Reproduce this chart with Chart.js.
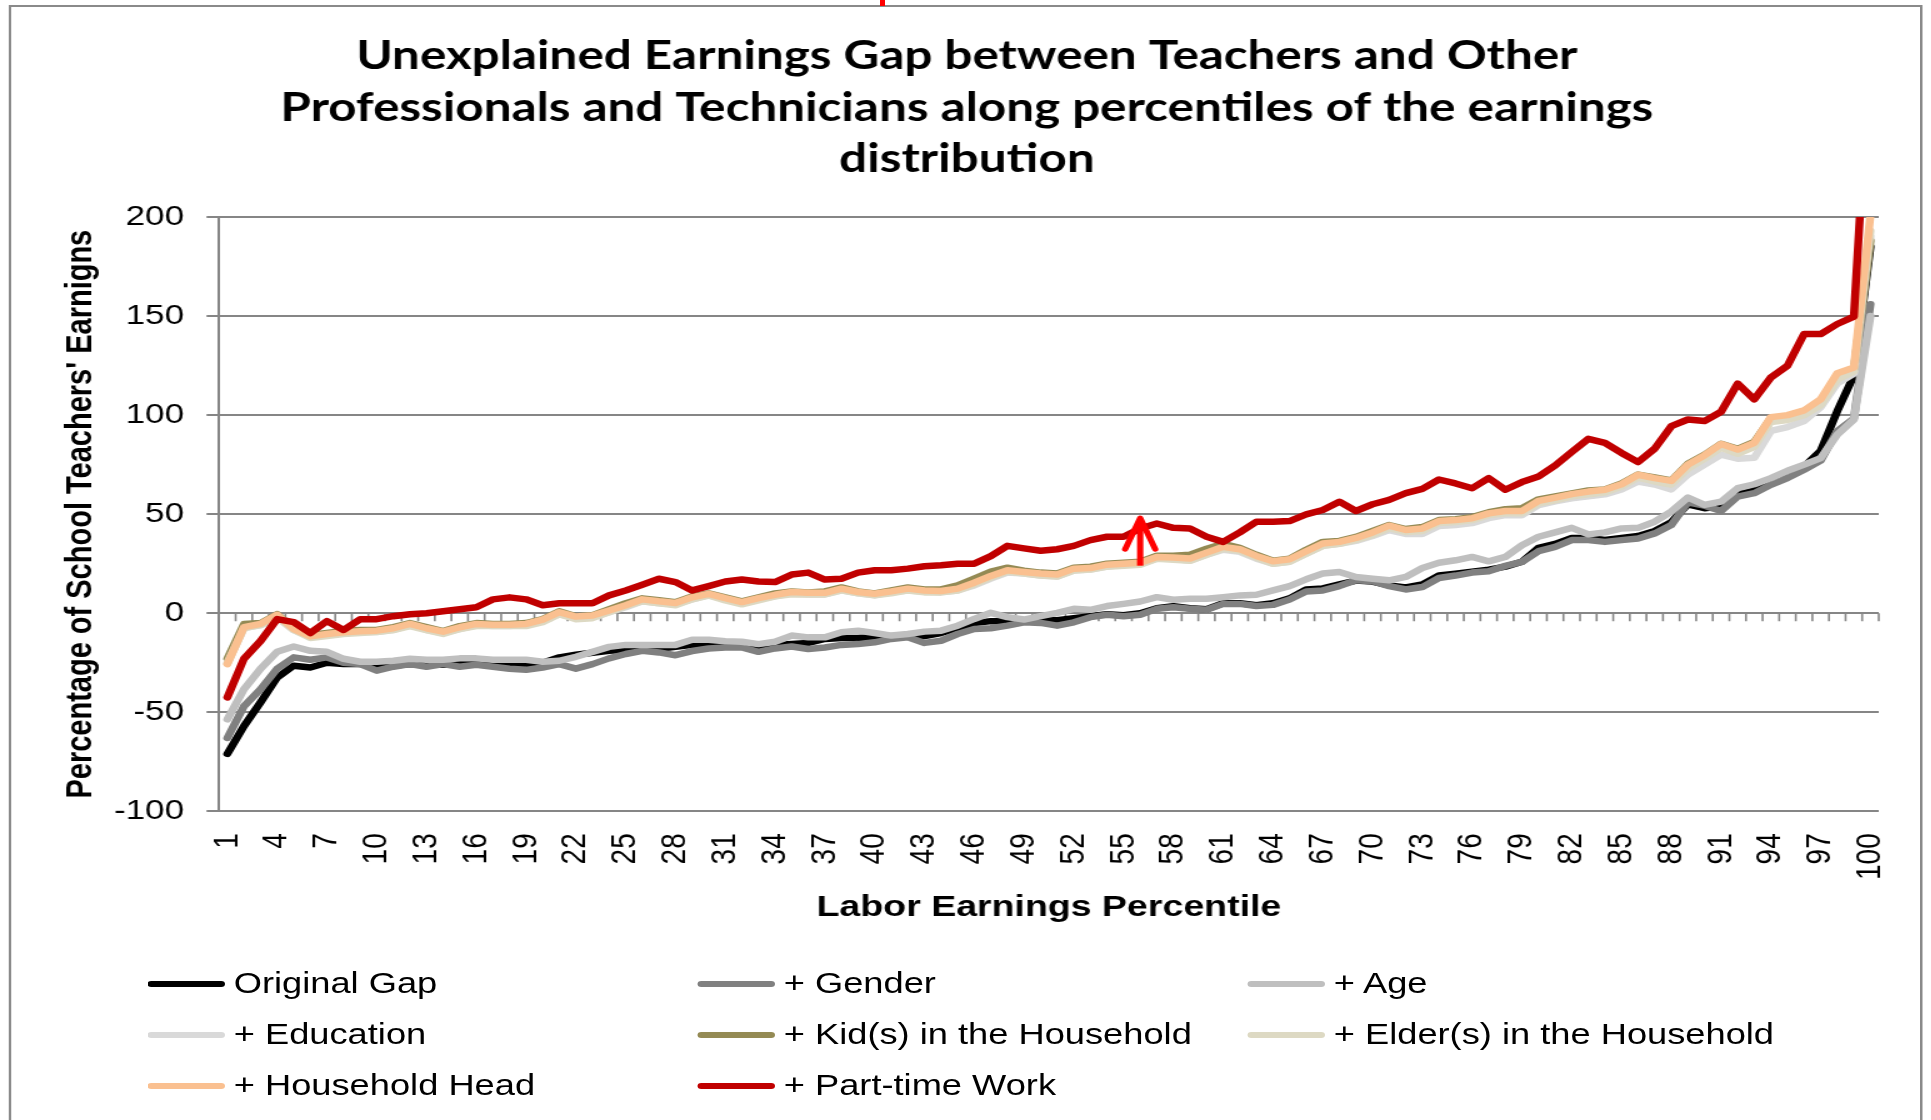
<!DOCTYPE html>
<html>
<head>
<meta charset="utf-8">
<title>Unexplained Earnings Gap</title>
<script src="https://cdn.jsdelivr.net/npm/chart.js@4.4.1/dist/chart.umd.min.js"></script>
<style>
  html, body { margin: 0; padding: 0; background: #fff; overflow: hidden; }
  /* the source picture is stretched sideways, so the whole stage is too */
  #stage { position: absolute; left: 0; top: 0; width: 1545px; height: 1120px; transform: scaleX(1.25); transform-origin: 0 0; }
  #frame { position: absolute; left: 7px; top: 5px; width: 1531px; height: 1300px; border: 2px solid #8a8a8a; box-sizing: border-box; }
  #chart { position: absolute; left: 0; top: 0; }
  #legend { position: absolute; left: 118px; top: 958px; display: grid; grid-template-columns: 440px 440px 440px; grid-auto-rows: 51px;
            font: 29px "Liberation Sans", Arial, sans-serif; color: #000; }
  .item { display: flex; align-items: center; white-space: nowrap; }
  .swatch { width: 62px; height: 6px; border-radius: 3px; margin-right: 7px; }
  #cut { position: absolute; left: 704px; top: 0; width: 4px; height: 6px; background: #ff0000; }
</style>
</head>
<body>
<div id="stage">
  <div id="frame"></div>
  <div id="cut"></div>
  <canvas id="chart" width="1545" height="1120" style="width:1545px;height:1120px"></canvas>
  <div id="legend"></div>
</div>
<script>
const percentiles = Array.from({ length: 100 }, (_, i) => String(i + 1));

const originalGap = [
  -71, -57, -45, -32.5, -26.5, -27.4, -25, -25.7, -25.7, -26.5, -26.5, -25.7, -26, -26, -25.7, -25.7, -26, -26.5, -26, -25, -22.3, -21, -20, -19, -18.5,
  -18, -18, -17, -16, -16, -16.5, -16.5, -17.5, -16, -15.5, -15, -13, -12.5, -12.5, -12, -12, -11, -11.5, -10, -7.5, -5, -4, -4, -3.5, -3,
  -3.5, -2.5, -1.5, -0.5, -1, 0, 2.5, 3.5, 2.5, 2, 5, 5, 4, 5, 7.5, 12, 12.5, 14.5, 16.5, 16, 14, 13, 14.5, 19, 20,
  21, 22, 23.5, 26, 33, 35, 38, 38, 37, 38, 39, 41.5, 46, 55, 53, 54, 60, 62, 66, 70, 74, 82, 102, 120, 185
];
const plusGender = [
  -63, -47, -38.4, -28, -22.3, -23.5, -22.3, -25, -25.7, -29, -27, -25.7, -27, -25.7, -27, -26, -27, -28, -28.6, -27.4, -25.7, -28, -25.7, -22.8, -20.6,
  -19, -19.8, -21.2, -19.1, -17.8, -17.3, -17.3, -19.5, -17.8, -16.8, -18.1, -17.3, -16, -15.6, -14.7, -13, -12.2, -15, -13.9, -10.5, -8, -7.6, -6.3, -4.6, -4.9,
  -6.3, -4.6, -2, -0.8, -1.5, -0.8, 2.2, 3, 2.2, 1.7, 4.7, 4.7, 3.6, 4.2, 6.9, 11, 11.5, 13.7, 16.6, 16.1, 13.7, 12, 13.2, 17.8, 19,
  20.5, 21.2, 23.9, 25.9, 31.3, 33.5, 36.9, 36.9, 36, 36.9, 37.7, 40.3, 44.5, 56, 54.3, 51.6, 58.9, 60.6, 64.8, 68.2, 72.4, 77, 91.9, 98.3, 156
];
const plusAge = [
  -53.6, -38.4, -28, -19.5, -16.8, -19, -19.5, -23, -24.5, -24.5, -24, -23, -23.5, -23.5, -22.8, -22.8, -23.5, -23.5, -23.5, -24.5, -24, -22, -19.5, -17, -16,
  -16, -16, -16, -13.4, -13.4, -14.2, -14.4, -15.6, -14.4, -11.3, -12.2, -12.2, -9.6, -8.8, -10, -11.3, -10.5, -9.3, -8.8, -6.3, -2.9, 0.2, -2, -3.2, -1.5,
  0.2, 2.2, 1.7, 3.6, 4.7, 5.9, 8.1, 6.8, 7.3, 7.3, 8.1, 9, 9.3, 11.5, 13.7, 17.1, 20, 20.8, 18.3, 17.4, 16.6, 18.3, 22.8, 25.5, 26.7,
  28.4, 26.2, 28.4, 34.3, 38.6, 40.8, 43.1, 39.8, 40.8, 42.8, 43.1, 46.2, 51.3, 58.4, 54.7, 56.3, 63.1, 65.1, 68.2, 71.9, 75, 78.3, 90.2, 97.8, 150
];
const plusEducation = [
  -25.5, -7.5, -6, -2, -8.5, -12, -11, -10, -9.5, -9.5, -8.5, -6, -8.5, -10, -8, -6, -6.5, -6.5, -6, -4, -0.5, -2.5, -2, 0.5, 3,
  6, 5, 4.5, 7, 9, 7, 5, 7, 8.5, 10, 9.5, 9.5, 11.5, 10, 9, 10.5, 11.5, 11, 10.5, 11.5, 14, 17.5, 20.5, 20, 19,
  18.5, 21.5, 22, 23.5, 24.5, 25, 27.5, 27.5, 26.5, 29.5, 32, 31, 27.5, 25, 26, 30, 34, 35, 36.5, 39, 42, 40, 40, 44, 44.5,
  45.5, 48, 49.5, 49.5, 54.5, 56.5, 58, 59, 60, 62.5, 66.5, 65, 62.5, 70, 75, 80, 78, 78.5, 92, 94, 97, 104, 116, 121, 190
];
const plusKids = [
  -23, -5.5, -5, -0.5, -7.5, -11, -10, -9, -8.5, -8.5, -7, -5, -7, -9, -6.5, -5, -5.5, -5.5, -5, -3, 1, -1.5, -1, 2, 5,
  7.5, 6.5, 5.5, 8.5, 10, 8, 6, 8, 10, 11, 10.5, 11, 13, 11, 10, 11.5, 13, 12, 12, 14, 17.5, 21, 23, 21.5, 20.5,
  20, 23, 23.5, 25, 25.5, 26, 29, 29, 29.5, 32.5, 35, 33, 29.5, 26.5, 27.5, 32, 36, 36.5, 38.5, 41.5, 44.5, 42.5, 43.5, 47, 47.5,
  48.5, 51, 52.5, 53, 57.5, 59, 60.5, 62, 62.5, 65.5, 70, 68.5, 67, 75.5, 80, 85.5, 83, 86.5, 98.5, 99.5, 102, 107, 120, 123, 188
];
const plusElders = [
  -25, -7.5, -6, -2, -8.5, -12.5, -11.5, -10.5, -10, -9.5, -8.5, -6.5, -8.5, -10.5, -8, -6.5, -6.5, -6.5, -6.5, -4.5, -0.5, -3, -2.5, 0.5, 3.5,
  6, 5, 4, 7, 9, 6.5, 4.5, 6.5, 8.5, 9.5, 9.5, 9.5, 11.5, 10, 9, 10, 11.5, 10.5, 10.5, 11.5, 14.5, 18, 21, 20, 19,
  18.5, 21.5, 22, 23.5, 24, 24.5, 27.5, 27, 26.5, 29.5, 32.5, 31.5, 28, 25, 26, 30, 34, 35, 37, 39.5, 43, 41, 41.5, 45.5, 46,
  47, 49.5, 50.5, 50.5, 55.5, 57, 59, 60, 61, 64, 68.5, 66.5, 65, 73, 78, 83.5, 80.5, 84, 96.5, 97.5, 100, 105, 118, 122, 193
];
const plusHouseholdHead = [
  -25.7, -7, -5.4, -0.8, -8, -11.7, -10.5, -9.6, -9.1, -8.8, -7.6, -5.4, -7.6, -9.3, -7.1, -5.4, -5.8, -5.8, -5.4, -3.2, 0.5, -1.7, -1.2, 1.4, 4,
  7, 6, 5.2, 8, 9.8, 7.6, 5.6, 7.6, 9.3, 10.7, 10.3, 10.3, 12.4, 10.7, 9.8, 11, 12.4, 11.5, 11.2, 12.4, 15.4, 18.8, 21.7, 20.8, 20,
  19.5, 22.5, 22.8, 24.5, 25, 25.5, 28.4, 28.1, 27.6, 30.6, 33.5, 32.3, 28.9, 26.2, 27.2, 31.3, 35.2, 36, 38, 40.8, 44.2, 42, 42.8, 46.5, 47,
  47.9, 50.4, 51.6, 51.6, 56.7, 58.4, 60.1, 61.4, 62.3, 65.1, 69.9, 68.2, 66.8, 75, 79.7, 85.4, 82.6, 86, 99, 100, 102.4, 108, 121.2, 124, 201
];
const plusPartTime = [
  -42.5, -23, -14, -3, -4.5, -10, -4, -8.5, -3, -3, -1.5, -0.5, 0, 1, 2, 3, 7, 8, 7, 4, 5, 5, 5, 9, 11.5,
  14.4, 17.4, 15.7, 11.5, 13.7, 16, 17, 16, 15.7, 19.5, 20.5, 17, 17.4, 20.5, 21.7, 21.7, 22.5, 23.7, 24.2, 25, 25, 28.8, 34, 32.7, 31.5,
  32.3, 34, 36.9, 38.6, 38.6, 42.8, 45.3, 43.1, 42.8, 38.6, 36, 40.8, 46.2, 46.2, 46.5, 49.9, 52.1, 56.3, 51.6, 55, 57.2, 60.6, 62.8, 67.5, 65.5,
  63.1, 68.2, 62.3, 66.2, 69, 74.6, 81.4, 88, 86, 80.9, 76.3, 83.1, 94.4, 97.8, 97, 101.7, 115.9, 108, 119, 124.9, 140.9, 140.9, 146, 149.7, 290
];

const seriesNames = ["Original Gap", "+ Gender", "+ Age", "+ Education", "+ Kid(s) in the Household",
  "+ Elder(s) in the Household", "+ Household Head", "+ Part-time Work"];
const seriesValues = [originalGap, plusGender, plusAge, plusEducation, plusKids, plusElders, plusHouseholdHead, plusPartTime];
const seriesColors = ["#000000", "#808080", "#bfbfbf", "#d9d9d9", "#948a54", "#ddd9c3", "#fac090", "#c00000"];

const yTicks = [-100, -50, 0, 50, 100, 150, 200];

// red arrow drawn on the chart: percentile, from, to
const arrowMark = { at: "56", from: 24, to: 48 };

const titleLines = [
  "Unexplained Earnings Gap between Teachers and Other",
  "Professionals and Technicians along percentiles of the earnings",
  "distribution"
];

const GRID = "#868686";
const FONT = '"Liberation Sans", Arial, sans-serif';

// small tick marks hang under the zero line, one per category boundary
const zeroTicks = {
  id: "zeroTicks",
  beforeDatasetsDraw(chart) {
    const x = chart.scales.x, y = chart.scales.y;
    const y0 = y.getPixelForValue(0);
    const n = x.getLabels().length;
    const step = (x.right - x.left) / n;
    const ctx = chart.ctx;
    ctx.save();
    ctx.strokeStyle = GRID;
    ctx.lineWidth = 1.6;
    ctx.beginPath();
    for (let k = 1; k <= n; k++) {
      const px = x.left + step * k;
      ctx.moveTo(px, y0);
      ctx.lineTo(px, y0 + 8);
    }
    ctx.stroke();
    ctx.restore();
  }
};

const arrow = {
  id: "arrow",
  afterDatasetsDraw(chart) {
    const x = chart.scales.x.getPixelForValue(percentiles.indexOf(arrowMark.at));
    const yb = chart.scales.y.getPixelForValue(arrowMark.from);
    const yt = chart.scales.y.getPixelForValue(arrowMark.to);
    const ctx = chart.ctx;
    ctx.save();
    ctx.strokeStyle = "#ff0000";
    ctx.lineWidth = 5;
    ctx.beginPath();
    ctx.moveTo(x, yb);
    ctx.lineTo(x, yt + 4);
    ctx.stroke();
    ctx.lineCap = "round";
    ctx.lineJoin = "round";
    ctx.beginPath();
    ctx.moveTo(x - 12, yt + 31);
    ctx.lineTo(x, yt);
    ctx.lineTo(x + 12, yt + 31);
    ctx.stroke();
    ctx.restore();
  }
};

new Chart(document.getElementById("chart"), {
  type: "line",
  data: {
    labels: percentiles,
    // later series sit on top, as in the original
    datasets: seriesNames.map((name, i) => ({
      label: name,
      data: seriesValues[i],
      order: seriesNames.length - i,
      borderColor: seriesColors[i],
      backgroundColor: seriesColors[i],
      borderWidth: 6.5,
      borderJoinStyle: "round",
      borderCapStyle: "round",
      pointRadius: 0,
      tension: 0,
    })),
  },
  options: {
    responsive: false,
    animation: false,
    devicePixelRatio: 1,
    layout: { padding: { top: 31, left: 44, right: 42, bottom: 194 } },
    plugins: {
      legend: { display: false },
      tooltip: { enabled: false },
      title: {
        display: true,
        text: titleLines,
        color: "#000",
        font: { family: "Lato", size: 39.5, weight: "bold", lineHeight: 1.3 },
        padding: { top: 0, bottom: 32 },
      },
    },
    scales: {
      x: {
        offset: true,
        grid: { display: false, drawTicks: false },
        border: { display: false },
        afterFit: s => { s.height -= 20; s.paddingRight = 0; s.paddingLeft = 0; },
        ticks: {
          autoSkip: false,
          minRotation: 90,
          maxRotation: 90,
          padding: 22,
          color: "#000",
          font: { family: FONT, size: 28 },
          callback: (v, i) => (i % 3 === 0 ? percentiles[i] : null),
        },
        title: {
          display: true,
          text: "Labor Earnings Percentile",
          color: "#000",
          font: { family: FONT, size: 30, weight: "bold" },
          padding: { top: 8, bottom: 0 },
        },
      },
      y: {
        min: yTicks[0],
        max: yTicks[yTicks.length - 1],
        afterBuildTicks: s => { s.ticks = yTicks.map(v => ({ value: v })); },
        afterFit: s => { s.width -= 17.6; },
        grid: { color: GRID, lineWidth: 2, tickLength: 10 },
        border: { display: true, color: GRID, width: 2 },
        ticks: { color: "#000", padding: 18, font: { family: FONT, size: 28 } },
        title: {
          display: true,
          text: "Percentage of School Teachers' Earnigns",
          color: "#000",
          font: { family: FONT, size: 29, weight: "bold" },
          padding: { top: 4, bottom: 8 },
        },
      },
    },
  },
  plugins: [zeroTicks, arrow],
});

document.getElementById("legend").innerHTML = seriesNames.map((name, i) => `
  <div class="item"><span class="swatch" style="background:${seriesColors[i]}"></span>${name}</div>`).join("");
</script>
</body>
</html>
